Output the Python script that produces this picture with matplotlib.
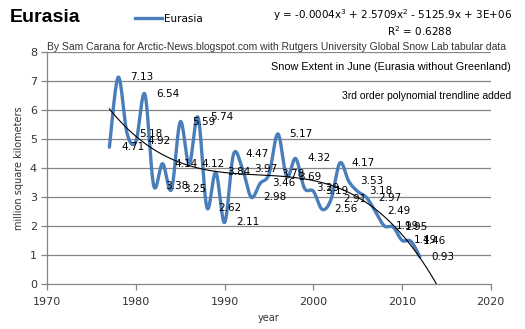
import matplotlib.pyplot as plt
import numpy as np

# June snow extent, Eurasia (million km²)
years = list(range(1977, 2013))
extent = [4.71, 7.13, 5.18, 4.92, 6.54, 3.38, 4.14, 3.25, 5.59, 4.12,
          5.74, 2.62, 3.84, 2.11, 4.47, 3.97, 2.98, 3.46, 3.78, 5.17,
          3.69, 4.32, 3.29, 3.19, 2.56, 2.91, 4.17, 3.53, 3.18, 2.97,
          2.49, 1.99, 1.95, 1.49, 1.46, 0.93]
xticks = [1970, 1980, 1990, 2000, 2010, 2020]
yticks = [0, 1, 2, 3, 4, 5, 6, 7, 8]

W, H = 525, 329
def fx(px):
    return px / W
def fy(py):
    return 1 - py / H


def smooth(x, y, n=20):
    # catmull-rom curve through the points, like a "smoothed line" chart
    x = np.asarray(x, float)
    y = np.asarray(y, float)
    px = np.concatenate([[x[0]], x, [x[-1]]])
    py = np.concatenate([[y[0]], y, [y[-1]]])
    xs, ys = [], []
    t = np.linspace(0, 1, n, endpoint=False)
    for i in range(1, len(px) - 2):
        p0, p1, p2, p3 = px[i-1], px[i], px[i+1], px[i+2]
        q0, q1, q2, q3 = py[i-1], py[i], py[i+1], py[i+2]
        for a, b, c, d, out in ((p0, p1, p2, p3, xs), (q0, q1, q2, q3, ys)):
            out.extend(0.5 * (2*b + (-a + c)*t + (2*a - 5*b + 4*c - d)*t**2
                              + (-a + 3*b - 3*c + d)*t**3))
    xs.append(x[-1])
    ys.append(y[-1])
    return np.array(xs), np.array(ys)


fig = plt.figure(figsize=(5.25, 3.29), dpi=100)
ax = fig.add_axes([fx(47.3), fy(283.5), fx(490.7) - fx(47.3), fy(52) - fy(283.5)])

grid_c = '#868686'
for v in yticks[1:]:
    ax.axhline(v, color=grid_c, lw=0.9, zorder=1)

sx, sy = smooth(years, extent)
ax.plot(sx, sy, color='#4A7EBB', lw=2.4, solid_capstyle='round', zorder=3)

# 3rd order polynomial trend
yr = np.array(years) - 1977
coef = np.polyfit(yr, extent, 3)
tx = np.linspace(0, 2015 - 1977, 300)
ax.plot(tx + 1977, np.polyval(coef, tx), color='black', lw=0.8, zorder=4)

for x, v in zip(years, extent):
    ax.annotate(f'{v:.2f}', (x, v), xytext=(8.5, 0), textcoords='offset points',
                ha='left', va='center', fontsize=7.5, color='black', zorder=5)

ax.set_xlim(1970, 2020)
ax.set_ylim(0, 8)
ax.set_xticks(xticks)
ax.set_yticks(yticks)
for s in ('top', 'right'):
    ax.spines[s].set_visible(False)
for s in ('left', 'bottom'):
    ax.spines[s].set_color(grid_c)
    ax.spines[s].set_linewidth(0.9)
ax.tick_params(colors=grid_c, labelcolor='#333333', labelsize=8, length=4, width=0.9)
ax.tick_params(axis='x', pad=6)
ax.set_xlabel('year', fontsize=7, color='#333333', labelpad=4)
ax.set_ylabel('million square kilometers', fontsize=7, color='#333333', labelpad=4)

fig.text(fx(10), fy(18), 'Eurasia', fontsize=14, fontweight='bold',
         family='Liberation Sans', va='center', ha='left')
fig.add_artist(plt.Line2D([fx(135), fx(162)], [fy(18), fy(18)],
                          color='#4A7EBB', lw=2.4))
fig.text(fx(164), fy(18.5), 'Eurasia', fontsize=7.5, family='DejaVu Sans',
         va='center', ha='left')
fig.text(fx(512), fy(15), 'y = -0.0004x$^3$ + 2.5709x$^2$ - 5125.9x + 3E+06',
         fontsize=7.5, family='DejaVu Sans', va='center', ha='right')
fig.text(fx(420), fy(31), 'R$^2$ = 0.6288', fontsize=7.5, family='DejaVu Sans',
         va='center', ha='center')
fig.text(fx(47), fy(47), 'By Sam Carana for Arctic-News.blogspot.com with Rutgers '
         'University Global Snow Lab tabular data', fontsize=7.5,
         family='Liberation Sans', color='#333333', va='center', ha='left')
fig.text(fx(511), fy(67), 'Snow Extent in June (Eurasia without Greenland)',
         fontsize=7.8, family='Liberation Sans', va='center', ha='right')
fig.text(fx(511), fy(96), '3rd order polynomial trendline added',
         fontsize=7.5, family='Liberation Sans', va='center', ha='right')

fig.savefig('out.png', dpi=100)
